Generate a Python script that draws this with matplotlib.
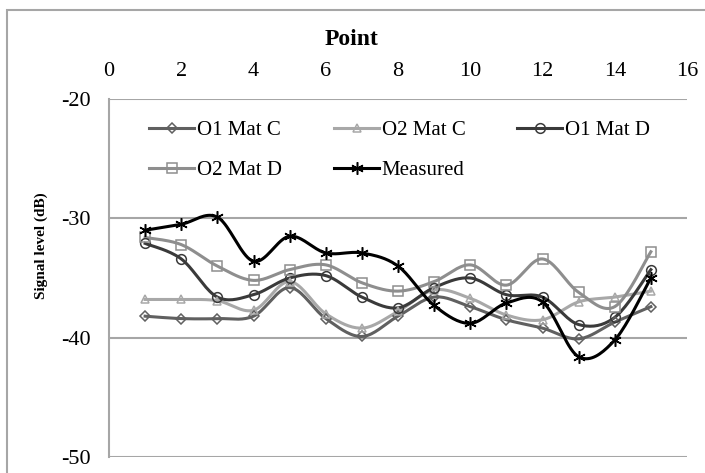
import matplotlib
matplotlib.use('Agg')

import matplotlib.pyplot as plt
import numpy as np
from matplotlib.patches import Rectangle

# Signal level at each measurement point (dB)
points = np.arange(1, 16)
o1_mat_c = [-38.2, -38.4, -38.4, -38.2, -35.8, -38.4, -39.9, -38.2, -36.6,
            -37.4, -38.5, -39.2, -40.1, -38.7, -37.4]
o2_mat_c = [-36.8, -36.8, -36.9, -37.7, -35.3, -38.0, -39.2, -37.8, -36.0,
            -36.7, -38.1, -38.5, -37.0, -36.6, -36.1]
o1_mat_d = [-32.1, -33.4, -36.6, -36.4, -35.0, -34.8, -36.6, -37.5, -35.8,
            -35.0, -36.4, -36.6, -38.9, -38.3, -34.3]
o2_mat_d = [-31.6, -32.2, -34.0, -35.2, -34.3, -33.9, -35.4, -36.1, -35.3,
            -33.9, -35.6, -33.4, -36.2, -37.4, -32.8]
measured = [-31.0, -30.5, -29.9, -33.6, -31.5, -32.9, -32.9, -34.0, -37.3,
            -38.8, -37.1, -37.0, -41.6, -40.2, -35.0]

series = [
    ('O1 Mat C', o1_mat_c, '#606060', 'D', 5),
    ('O2 Mat C', o2_mat_c, '#a8a8a8', '^', 6),
    ('O1 Mat D', o1_mat_d, '#3a3a3a', 'o', 7),
    ('O2 Mat D', o2_mat_d, '#8e8e8e', 's', 7),
    ('Measured', measured, '#000000', (6, 2, 0), 9),
]


def smooth(x, y, n=20):
    """Catmull-Rom style bezier through the points (like a spreadsheet's smoothed line)."""
    p = np.column_stack([x, y]).astype(float)
    ext = np.vstack([p[0], p, p[-1]])
    t = np.linspace(0, 1, n)[:, None]
    out = []
    for i in range(len(p) - 1):
        p0, p1, p2, p3 = ext[i], ext[i + 1], ext[i + 2], ext[i + 3]
        c1 = p1 + (p2 - p0) / 6
        c2 = p2 - (p3 - p1) / 6
        seg = ((1 - t) ** 3 * p1 + 3 * (1 - t) ** 2 * t * c1
               + 3 * (1 - t) * t ** 2 * c2 + t ** 3 * p2)
        out.append(seg if i == 0 else seg[1:])
    out = np.vstack(out)
    return out[:, 0], out[:, 1]


plt.rcParams['font.family'] = ['Liberation Serif', 'DejaVu Serif']
plt.rcParams['axes.unicode_minus'] = False

fig = plt.figure(figsize=(7.05, 4.73), dpi=100)
ax = fig.add_axes([109 / 705, 1 - 457 / 473, 578 / 705, 358 / 473])

# chart border
fig.patches.append(Rectangle((6.5 / 705, -0.1), 1.2, 1 - 10 / 473 + 0.1,
                             transform=fig.transFigure, fill=False,
                             edgecolor='#a6a6a6', linewidth=1.5))

handles = {}
for name, vals, col, mk, ms in series:
    xs, ys = smooth(points, vals)
    ax.plot(xs, ys, color=col, lw=2.2, zorder=2)
    ax.plot(points, vals, linestyle='none', marker=mk, markersize=ms,
            markerfacecolor='none', markeredgecolor=col, markeredgewidth=1.1,
            zorder=3)
    h, = ax.plot([], [], color=col, lw=2.2, marker=mk, markersize=ms,
                 markerfacecolor='none', markeredgecolor=col,
                 markeredgewidth=1.1)
    handles[name] = h

ax.set_xlim(0, 16)
ax.set_ylim(-50, -20)
ax.set_xticks(np.arange(0, 17, 2))
ax.set_yticks([-50, -40, -30, -20])
ax.xaxis.tick_top()
ax.tick_params(axis='x', length=0, pad=13, labelsize=16)
ax.tick_params(axis='y', length=0, pad=13.5, labelsize=16)
ax.grid(axis='y', color='#a6a6a6', lw=1.5)
ax.set_axisbelow(True)
for side in ['top', 'right', 'bottom']:
    ax.spines[side].set_visible(False)
ax.spines['left'].set_color('#a6a6a6')
ax.spines['left'].set_linewidth(1.5)

fig.text(352 / 705, 1 - 45 / 473, 'Point', fontsize=17, fontweight='bold',
         ha='center', va='baseline')
ax.set_ylabel('Signal level (dB)', fontsize=11, fontweight='bold')
ax.yaxis.set_label_coords(-0.1055, 0.59)

# row-major order for the 3-column legend
order = ['O1 Mat C', 'O2 Mat D', 'O2 Mat C', 'Measured', 'O1 Mat D']
ax.legend([handles[k] for k in order], order, ncol=3, loc='upper left',
          bbox_to_anchor=(0.07, 0.94), frameon=False, fontsize=15,
          handlelength=2.16, handletextpad=0.12, columnspacing=2.5,
          labelspacing=1.0, borderpad=0, borderaxespad=0)

fig.savefig('out.png', dpi=100)
